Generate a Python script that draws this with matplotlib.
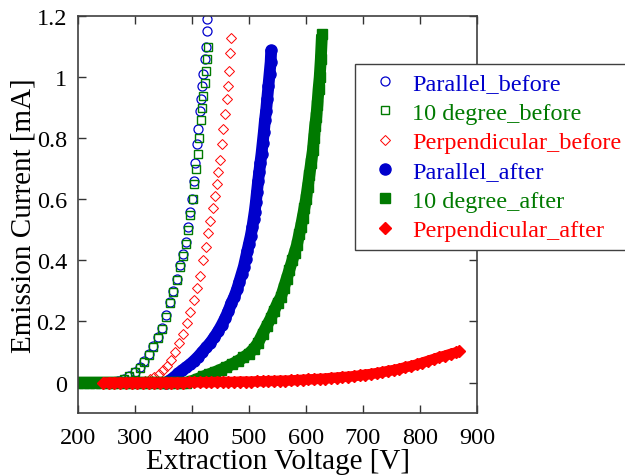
import matplotlib
matplotlib.use("Agg")
import matplotlib.pyplot as plt

plt.rcParams['font.family'] = ['Liberation Serif', 'DejaVu Serif']

# Parallel_before (open circles)
par_b_v = [200, 210, 220, 230, 240, 250, 260, 270, 280, 290, 300, 308, 316, 324, 332, 340, 347, 354, 361, 367,
           373, 379, 384, 389, 393, 397, 400, 403, 406, 409, 411, 414, 416, 418, 420, 422, 424, 426, 427]
par_b_i = [0, 0, 0, 0, 0, 0, 0, 0.005, 0.012, 0.022, 0.035, 0.05, 0.07, 0.095, 0.12, 0.15, 0.18, 0.22, 0.265, 0.3,
           0.34, 0.385, 0.42, 0.46, 0.51, 0.56, 0.6, 0.66, 0.72, 0.78, 0.83, 0.89, 0.93, 0.97, 1.01, 1.06, 1.1, 1.15, 1.19]

# 10 degree_before (open squares)
deg_b_v = [260, 270, 280, 290, 300, 308, 316, 324, 332, 340, 347, 354, 361, 367, 373, 379, 384, 389, 393, 397,
           401, 404, 407, 410, 413, 416, 418, 420, 422, 424, 426, 428]
deg_b_i = [0, 0.004, 0.01, 0.02, 0.033, 0.048, 0.067, 0.09, 0.115, 0.145, 0.175, 0.215, 0.26, 0.295, 0.335, 0.38,
           0.415, 0.455, 0.5, 0.55, 0.6, 0.65, 0.7, 0.75, 0.8, 0.86, 0.9, 0.94, 0.98, 1.02, 1.06, 1.1]

# Perpendicular_before (open diamonds)
perp_b_v = [310, 318, 326, 334, 342, 350, 357, 364, 371, 378, 385, 391, 397, 403, 409, 414, 419, 424, 428, 432,
            436, 440, 443, 446, 449, 452, 455, 458, 461, 463, 465, 467, 468]
perp_b_i = [0, 0.004, 0.01, 0.018, 0.028, 0.04, 0.055, 0.075, 0.1, 0.13, 0.16, 0.195, 0.23, 0.27, 0.31, 0.35,
            0.4, 0.445, 0.49, 0.53, 0.57, 0.61, 0.65, 0.69, 0.73, 0.78, 0.83, 0.88, 0.93, 0.97, 1.02, 1.08, 1.13]

# Parallel_after (filled circles)
par_a_v = [355, 362, 369, 376, 383, 390, 397, 404, 411, 418, 425, 432, 439, 446, 452, 458, 464, 469, 474, 479,
           483, 487, 491, 494, 497, 500, 503, 506, 508, 510, 512, 514, 516, 518, 520, 522, 524, 526, 528, 530,
           532, 534, 536, 538, 539]
par_a_i = [0, 0.008, 0.018, 0.03, 0.04, 0.05, 0.06, 0.072, 0.085, 0.1, 0.115, 0.13, 0.148, 0.168, 0.188, 0.21,
           0.235, 0.26, 0.28, 0.305, 0.33, 0.355, 0.38, 0.405, 0.43, 0.455, 0.48, 0.51, 0.535, 0.56, 0.59, 0.625,
           0.66, 0.69, 0.72, 0.75, 0.785, 0.82, 0.86, 0.89, 0.93, 0.97, 1.01, 1.05, 1.09]

# 10 degree_after (filled squares)
deg_a_v = [200, 210, 220, 230, 240, 250, 260, 270, 280, 290, 300, 310, 320, 330, 340, 350, 360, 370, 380, 390,
           400, 410, 420, 430, 440, 450, 460, 470, 480, 490, 500, 508, 516, 524, 531, 538, 544, 550, 556, 561,
           566, 571, 576, 580, 584, 588, 591, 594, 597, 600, 603, 606, 609, 612, 614, 616, 618, 620, 622, 624,
           626, 628]
deg_a_i = [0, 0, 0, 0, 0, 0, 0, 0, 0, 0, 0, 0, 0, 0, 0, 0, 0, 0, 0, 0,
           0.005, 0.012, 0.02, 0.027, 0.034, 0.042, 0.05, 0.06, 0.07, 0.082, 0.095, 0.11, 0.13, 0.16, 0.185, 0.21,
           0.235, 0.26, 0.28, 0.31, 0.34, 0.37, 0.4, 0.425, 0.45, 0.485, 0.51, 0.54, 0.57, 0.6, 0.64, 0.68,
           0.72, 0.76, 0.8, 0.84, 0.87, 0.91, 0.96, 1.0, 1.06, 1.14]

# Perpendicular_after (filled diamonds)
perp_a_v = [244, 254, 264, 274, 284, 294, 304, 314, 324, 334, 344, 354, 364, 374, 384, 394, 404, 414, 424, 434,
            444, 454, 464, 474, 484, 494, 504, 514, 524, 534, 544, 554, 564, 574, 584, 594, 604, 614, 624, 634,
            644, 654, 664, 674, 684, 694, 704, 714, 724, 734, 744, 754, 764, 774, 784, 794, 804, 814, 824, 834,
            844, 854, 864, 868]
perp_a_i = [0, 0, 0, 0, 0, 0, 0, 0, 0, 0, 0, 0, 0, 0, 0, 0.001, 0.001, 0.001, 0.001, 0.001,
            0.002, 0.002, 0.002, 0.002, 0.003, 0.003, 0.003, 0.004, 0.004, 0.005, 0.005, 0.006, 0.006, 0.007, 0.008,
            0.009, 0.010, 0.011, 0.012, 0.013, 0.015, 0.016, 0.018, 0.019, 0.021, 0.023, 0.026, 0.028, 0.031, 0.034,
            0.038, 0.041, 0.045, 0.05, 0.054, 0.059, 0.065, 0.071, 0.077, 0.083, 0.088, 0.094, 0.099, 0.102]

BLUE = '#0000cc'
GREEN = '#007a00'
RED = '#ff0000'

fig = plt.figure(figsize=(6.25, 4.77), dpi=100)
ax = fig.add_axes([0.1248, 0.132, 0.6384, 0.832])

ax.plot(par_b_v, par_b_i, 'o', ms=6.5, mfc='none', mec=BLUE, mew=0.9, label='Parallel_before')
ax.plot(deg_b_v, deg_b_i, 's', ms=5.5, mfc='none', mec=GREEN, mew=1.0, label='10 degree_before')
ax.plot(perp_b_v, perp_b_i, 'D', ms=5.5, mfc='none', mec=RED, mew=0.7, label='Perpendicular_before')

# thick lines under the filled markers so the dense series read as solid bands
ax.plot(par_a_v, par_a_i, '-', color=BLUE, lw=8.5, solid_capstyle='butt')
ax.plot(par_a_v, par_a_i, 'o', ms=8, color=BLUE, mec=BLUE, label='Parallel_after')
ax.plot(deg_a_v, deg_a_i, '-', color=GREEN, lw=8.5, solid_capstyle='butt')
ax.plot(deg_a_v, deg_a_i, 's', ms=7.5, color=GREEN, mec=GREEN, label='10 degree_after')
ax.plot(perp_a_v, perp_a_i, '-', color=RED, lw=7.5, solid_capstyle='butt')
ax.plot(perp_a_v, perp_a_i, 'D', ms=6.5, color=RED, mec=RED, label='Perpendicular_after')

ax.set_xlim(200, 900)
ax.set_ylim(-0.1, 1.2)
ax.set_xticks([200, 300, 400, 500, 600, 700, 800, 900])
ax.set_yticks([0, 0.2, 0.4, 0.6, 0.8, 1.0, 1.2])
ax.set_yticklabels(['0', '0.2', '0.4', '0.6', '0.8', '1', '1.2'])
ax.tick_params(direction='in', length=6, width=1, top=True, right=True, labelsize=17.5, colors='#333333',
               labelcolor='black')
ax.tick_params(axis='x', pad=10)
ax.tick_params(axis='y', pad=8)
for s in ax.spines.values():
    s.set_color('#404040')
    s.set_linewidth(1.2)

ax.set_xlabel('Extraction Voltage [V]', fontsize=21, labelpad=0)
ax.set_ylabel('Emission Current [mA]', fontsize=21, labelpad=0)

leg = fig.legend(loc='upper left', bbox_to_anchor=(355 / 625, 1 - 65 / 477), fontsize=17.5,
                 numpoints=1, handlelength=1.75, handletextpad=0.25, borderpad=0.35, borderaxespad=0,
                 labelspacing=0.3, fancybox=False, framealpha=1)
leg.get_frame().set_edgecolor('#404040')
leg.get_frame().set_linewidth(1.0)
for txt, c in zip(leg.get_texts(), [BLUE, GREEN, RED, BLUE, GREEN, RED]):
    txt.set_color(c)

fig.savefig('out.png', dpi=100)
